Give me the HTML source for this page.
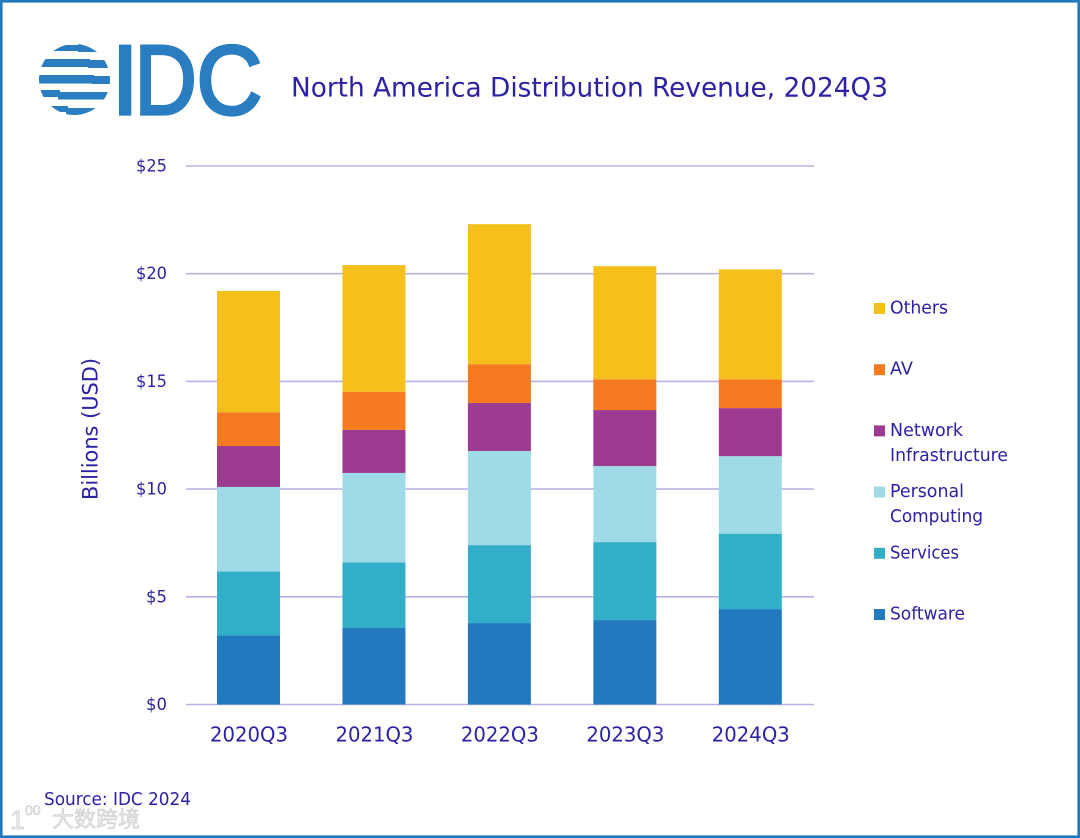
<!DOCTYPE html>
<html lang="en">
<head>
<meta charset="utf-8">
<title>North America Distribution Revenue, 2024Q3</title>
<style>
html,body{margin:0;padding:0;background:#fff;width:1080px;height:838px;overflow:hidden}
svg{display:block}
text{font-family:"DejaVu Sans","Liberation Sans",sans-serif;fill:#2c22a6}
</style>
</head>
<body>
<svg id="chart" xmlns="http://www.w3.org/2000/svg" width="1080" height="838" viewBox="0 0 1080 838">
  <defs>
    <clipPath id="globe-clip"><circle cx="74.5" cy="79.5" r="35.5"/></clipPath>
  </defs>
  <rect x="1.2" y="1.2" width="1077.6" height="835.6" fill="#fff" stroke="#2079bd" stroke-width="2.8"/>
  <g>
    <g clip-path="url(#globe-clip)" fill="#2a7dc0">
      <rect x="30" y="45" width="50" height="6"/><rect x="78" y="44" width="40" height="8"/>
      <rect x="30" y="59" width="60" height="8"/><rect x="88" y="60" width="30" height="8"/>
      <rect x="30" y="75" width="64" height="8.5"/><rect x="92" y="76" width="26" height="8"/>
      <rect x="30" y="90" width="30" height="7"/><rect x="58" y="92" width="60" height="7.5"/>
      <rect x="30" y="106" width="38" height="6"/><rect x="66" y="108" width="50" height="7.5"/>
    </g>
    <g style="stroke:#2a7dc0;stroke-width:3.2">
      <text transform="translate(111.5,114)" font-size="98" style="font-family:'Liberation Sans',sans-serif;fill:#2a7dc0">I</text>
      <text transform="translate(134.5,114) scale(.88,1)" font-size="98" style="font-family:'Liberation Sans',sans-serif;fill:#2a7dc0">D</text>
      <text transform="translate(196.5,114) scale(.93,1)" font-size="98" style="font-family:'Liberation Sans',sans-serif;fill:#2a7dc0">C</text>
    </g>
  </g>
  <text x="291" y="96.5" font-size="27" textLength="597" lengthAdjust="spacingAndGlyphs">North America Distribution Revenue, 2024Q3</text>
  <g id="grid"></g>
  <g id="bars"></g>
  <g id="xlabels"></g>
  <text transform="translate(97.5,429) rotate(-90)" text-anchor="middle" font-size="21" textLength="142" lengthAdjust="spacingAndGlyphs">Billions (USD)</text>
  <g id="legend"></g>
  <text x="44" y="805" font-size="17.5" textLength="147" lengthAdjust="spacingAndGlyphs">Source: IDC 2024</text>
  <g style="font-family:'Liberation Sans','Noto Sans CJK SC',sans-serif">
    <text x="10" y="829" font-size="27" style="font-family:'Liberation Sans',sans-serif;fill:#ececec;stroke:#c8c8c8;stroke-width:.6">1</text>
    <text x="25" y="815" font-size="14" style="font-family:'Liberation Sans',sans-serif;fill:#f2f2f2;stroke:#c8c8c8;stroke-width:.6">00</text>
    <text x="52" y="827" font-size="22" textLength="88" style="font-family:'Liberation Sans','Noto Sans CJK SC',sans-serif;fill:#e4e4e4;stroke:#c8c8c8;stroke-width:.5">大数跨境</text>
  </g>
</svg>
<script>
const categories = ['2020Q3', '2021Q3', '2022Q3', '2023Q3', '2024Q3'];
const software = [3.2, 3.55, 3.78, 3.92, 4.43];
const services = [2.98, 3.05, 3.62, 3.62, 3.5];
const personalComputing = [3.92, 4.15, 4.37, 3.53, 3.6];
const networkInfrastructure = [1.9, 2.0, 2.23, 2.6, 2.23];
const av = [1.57, 1.77, 1.8, 1.43, 1.34];
const others = [5.63, 5.88, 6.5, 5.25, 5.1];
const yTicks = [0, 5, 10, 15, 20, 25];
const tickLabels = ['$0', '$5', '$10', '$15', '$20', '$25'];
const seriesNames = ['Software', 'Services', 'Personal Computing', 'Network Infrastructure', 'AV', 'Others'];
const seriesValues = [software, services, personalComputing, networkInfrastructure, av, others];
const seriesColors = ['#2279bd', '#33aec8', '#9fdbe6', '#9c3b8f', '#f57a20', '#f5c01c'];

const NS = 'http://www.w3.org/2000/svg';
const yScale = v => 704.5 - v * 21.54;
const xScale = i => 248.5 + i * 125.45;
const barWidth = 63;
function make(tag, parent, attrs, text) {
  const el = document.createElementNS(NS, tag);
  for (const k in attrs) el.setAttribute(k, attrs[k]);
  if (text !== undefined) el.textContent = text;
  document.getElementById(parent).appendChild(el);
  return el;
}
const slug = s => s.toLowerCase().replace(/\s+/g, '-');

yTicks.forEach((t, i) => {
  const line = make('line', 'grid', {x1: 186, x2: 814, y1: yScale(t), y2: yScale(t), stroke: '#b9b2e6', 'stroke-width': 1.6});
  
  
  const label = make('text', 'grid', {x: 167, y: yScale(t) + 5.5, 'text-anchor': 'end', 'font-size': 16.5, textLength: tickLabels[i].length === 2 ? 21 : 31, lengthAdjust: 'spacingAndGlyphs'}, tickLabels[i]);
  
  
});

categories.forEach((c, i) => {
  let total = 0;
  seriesValues.forEach((vals, s) => {
    const top = yScale(total + vals[i]);
    const bottom = yScale(total);
    const bar = make('rect', 'bars', {x: xScale(i) - barWidth / 2, y: top, width: barWidth, height: bottom - top, fill: seriesColors[s]});
    
    
    total += vals[i];
  });
  const label = make('text', 'xlabels', {x: xScale(i) + 0.5, y: 741.5, 'text-anchor': 'middle', 'font-size': 20.5, textLength: 78, lengthAdjust: 'spacingAndGlyphs'}, c);
  
  
});

const legendLines = [['Others'], ['AV'], ['Network', 'Infrastructure'], ['Personal', 'Computing'], ['Services'], ['Software']];
const legendColors = seriesColors.slice().reverse();
const lineWidths = {'Others': 58, 'AV': 23, 'Network': 73, 'Infrastructure': 118, 'Personal': 74, 'Computing': 93, 'Services': 69, 'Software': 75};
legendLines.forEach((lines, i) => {
  const y = 308 + i * 61.2;
  const swatch = make('rect', 'legend', {x: 874, y: y - 5, width: 11, height: 11, fill: legendColors[i]});
  
  
  lines.forEach((t, j) => {
    const label = make('text', 'legend', {x: 890, y: y + 5.5 + j * 25, 'font-size': 18, textLength: lineWidths[t], lengthAdjust: 'spacingAndGlyphs'}, t);
    
    
  });
});
</script>
</body>
</html>
